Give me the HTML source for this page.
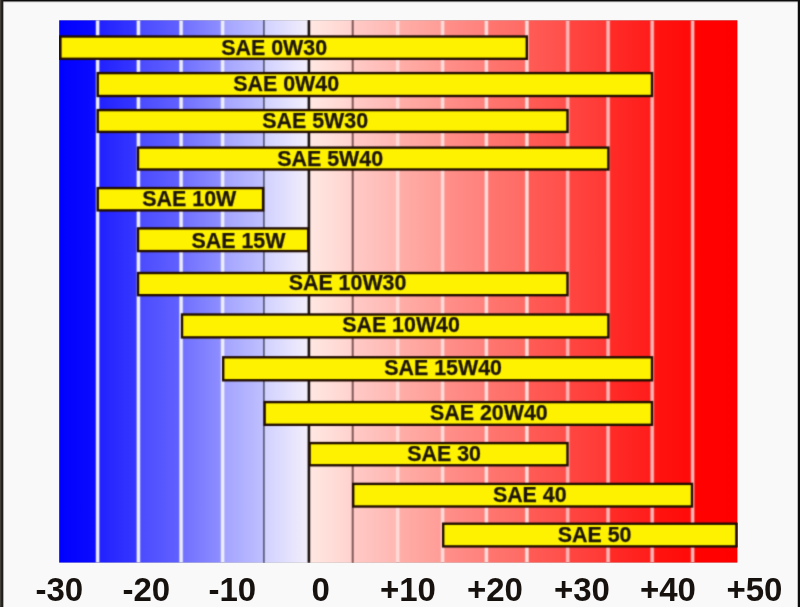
<!DOCTYPE html>
<html><head><meta charset="utf-8"><title>SAE</title>
<style>
html,body{margin:0;padding:0;}
body{width:800px;height:607px;overflow:hidden;background:#faf9f9;position:relative;font-family:"Liberation Sans",Arial,sans-serif;font-weight:bold;color:#1c1408;}
svg{position:absolute;left:0;top:0;}
.wrap{position:absolute;left:0;top:0;width:800px;height:607px;filter:url(#soft);}
.t{position:absolute;-webkit-text-stroke:0.25px #1c1408;font-size:21.4px;line-height:24px;white-space:nowrap;}
.ax{position:absolute;font-size:33px;line-height:36px;white-space:nowrap;top:572px;color:#17120e;}
</style></head><body>
<div class="wrap">
<svg width="800" height="607" viewBox="0 0 800 607">
<defs><filter id="soft" x="0" y="0" width="100%" height="100%" filterUnits="objectBoundingBox" color-interpolation-filters="sRGB"><feConvolveMatrix order="3" kernelMatrix="0.062 0.249 0.062 0.249 1 0.249 0.062 0.249 0.062" divisor="2.244" edgeMode="duplicate" preserveAlpha="true"/></filter>
<linearGradient id="g0" x1="0" x2="1" y1="0" y2="0"><stop offset="0" stop-color="#0000ff"/><stop offset="1" stop-color="#0c0cff"/></linearGradient>
<linearGradient id="g1" x1="0" x2="1" y1="0" y2="0"><stop offset="0" stop-color="#2020ff"/><stop offset="1" stop-color="#3838ff"/></linearGradient>
<linearGradient id="g2" x1="0" x2="1" y1="0" y2="0"><stop offset="0" stop-color="#4a4aff"/><stop offset="1" stop-color="#6262ff"/></linearGradient>
<linearGradient id="g3" x1="0" x2="1" y1="0" y2="0"><stop offset="0" stop-color="#6e6eff"/><stop offset="1" stop-color="#9090ff"/></linearGradient>
<linearGradient id="g4" x1="0" x2="1" y1="0" y2="0"><stop offset="0" stop-color="#a2a2ff"/><stop offset="1" stop-color="#c0c0ff"/></linearGradient>
<linearGradient id="g5" x1="0" x2="1" y1="0" y2="0"><stop offset="0" stop-color="#d0d0ff"/><stop offset="1" stop-color="#f4effb"/></linearGradient>
<linearGradient id="g6" x1="0" x2="1" y1="0" y2="0"><stop offset="0" stop-color="#ffe8e2"/><stop offset="1" stop-color="#ffd2ce"/></linearGradient>
<linearGradient id="g7" x1="0" x2="1" y1="0" y2="0"><stop offset="0" stop-color="#ffcac6"/><stop offset="1" stop-color="#ffb6b2"/></linearGradient>
<linearGradient id="g8" x1="0" x2="1" y1="0" y2="0"><stop offset="0" stop-color="#ffaea8"/><stop offset="1" stop-color="#ff9c96"/></linearGradient>
<linearGradient id="g9" x1="0" x2="1" y1="0" y2="0"><stop offset="0" stop-color="#ff908a"/><stop offset="1" stop-color="#ff807c"/></linearGradient>
<linearGradient id="g10" x1="0" x2="1" y1="0" y2="0"><stop offset="0" stop-color="#ff7670"/><stop offset="1" stop-color="#ff6a64"/></linearGradient>
<linearGradient id="g11" x1="0" x2="1" y1="0" y2="0"><stop offset="0" stop-color="#ff5c56"/><stop offset="1" stop-color="#ff4e4a"/></linearGradient>
<linearGradient id="g12" x1="0" x2="1" y1="0" y2="0"><stop offset="0" stop-color="#ff4642"/><stop offset="1" stop-color="#ff3834"/></linearGradient>
<linearGradient id="g13" x1="0" x2="1" y1="0" y2="0"><stop offset="0" stop-color="#ff2c28"/><stop offset="1" stop-color="#ff1c1a"/></linearGradient>
<linearGradient id="g14" x1="0" x2="1" y1="0" y2="0"><stop offset="0" stop-color="#ff1410"/><stop offset="1" stop-color="#ff0a08"/></linearGradient>
<linearGradient id="g15" x1="0" x2="1" y1="0" y2="0"><stop offset="0" stop-color="#ff0200"/><stop offset="1" stop-color="#ff0000"/></linearGradient>
</defs>
<rect x="59.2" y="20.3" width="38.90" height="542.30" fill="url(#g0)"/>
<rect x="97.6" y="20.3" width="41.30" height="542.30" fill="url(#g1)"/>
<rect x="138.4" y="20.3" width="43.20" height="542.30" fill="url(#g2)"/>
<rect x="181.1" y="20.3" width="42.00" height="542.30" fill="url(#g3)"/>
<rect x="222.6" y="20.3" width="41.80" height="542.30" fill="url(#g4)"/>
<rect x="263.9" y="20.3" width="45.50" height="542.30" fill="url(#g5)"/>
<rect x="308.9" y="20.3" width="44.30" height="542.30" fill="url(#g6)"/>
<rect x="352.7" y="20.3" width="45.50" height="542.30" fill="url(#g7)"/>
<rect x="397.7" y="20.3" width="45.40" height="542.30" fill="url(#g8)"/>
<rect x="442.6" y="20.3" width="44.30" height="542.30" fill="url(#g9)"/>
<rect x="486.4" y="20.3" width="41.00" height="542.30" fill="url(#g10)"/>
<rect x="526.9" y="20.3" width="41.30" height="542.30" fill="url(#g11)"/>
<rect x="567.7" y="20.3" width="40.90" height="542.30" fill="url(#g12)"/>
<rect x="608.1" y="20.3" width="44.60" height="542.30" fill="url(#g13)"/>
<rect x="652.2" y="20.3" width="40.90" height="542.30" fill="url(#g14)"/>
<rect x="692.6" y="20.3" width="44.80" height="542.30" fill="url(#g15)"/>
<rect x="95.50" y="20.3" width="4.20" height="542.30" fill="#ececff" opacity="0.45"/>
<rect x="96.10" y="20.3" width="3.0" height="542.30" fill="#ececff"/>
<rect x="136.30" y="20.3" width="4.20" height="542.30" fill="#ececff" opacity="0.45"/>
<rect x="136.90" y="20.3" width="3.0" height="542.30" fill="#ececff"/>
<rect x="179.00" y="20.3" width="4.20" height="542.30" fill="#ececff" opacity="0.45"/>
<rect x="179.60" y="20.3" width="3.0" height="542.30" fill="#ececff"/>
<rect x="220.50" y="20.3" width="4.20" height="542.30" fill="#ececff" opacity="0.45"/>
<rect x="221.10" y="20.3" width="3.0" height="542.30" fill="#ececff"/>
<rect x="263.10" y="20.3" width="1.6" height="542.30" fill="#54546e"/>
<rect x="307.60" y="20.3" width="2.6" height="542.30" fill="#181010"/>
<rect x="351.70" y="20.3" width="2.0" height="542.30" fill="#845858"/>
<rect x="395.60" y="20.3" width="4.20" height="542.30" fill="#ffdad8" opacity="0.45"/>
<rect x="396.20" y="20.3" width="3.0" height="542.30" fill="#ffdad8"/>
<rect x="440.50" y="20.3" width="4.20" height="542.30" fill="#ffdad8" opacity="0.45"/>
<rect x="441.10" y="20.3" width="3.0" height="542.30" fill="#ffdad8"/>
<rect x="484.30" y="20.3" width="4.20" height="542.30" fill="#ffdad8" opacity="0.45"/>
<rect x="484.90" y="20.3" width="3.0" height="542.30" fill="#ffdad8"/>
<rect x="524.80" y="20.3" width="4.20" height="542.30" fill="#ffdad8" opacity="0.45"/>
<rect x="525.40" y="20.3" width="3.0" height="542.30" fill="#ffdad8"/>
<rect x="565.60" y="20.3" width="4.20" height="542.30" fill="#ffb4b4" opacity="0.45"/>
<rect x="566.20" y="20.3" width="3.0" height="542.30" fill="#ffb4b4"/>
<rect x="606.00" y="20.3" width="4.20" height="542.30" fill="#ffb4b4" opacity="0.45"/>
<rect x="606.60" y="20.3" width="3.0" height="542.30" fill="#ffb4b4"/>
<rect x="650.10" y="20.3" width="4.20" height="542.30" fill="#ffb4b4" opacity="0.45"/>
<rect x="650.70" y="20.3" width="3.0" height="542.30" fill="#ffb4b4"/>
<rect x="690.50" y="20.3" width="4.20" height="542.30" fill="#ffb4b4" opacity="0.45"/>
<rect x="691.10" y="20.3" width="3.0" height="542.30" fill="#ffb4b4"/>
<rect x="60.40" y="36.50" width="466.40" height="22.30" fill="#fff200" stroke="#200c00" stroke-width="2.4"/>
<rect x="97.70" y="73.10" width="554.30" height="22.90" fill="#fff200" stroke="#200c00" stroke-width="2.4"/>
<rect x="97.70" y="110.10" width="469.80" height="21.80" fill="#fff200" stroke="#200c00" stroke-width="2.4"/>
<rect x="138.00" y="147.60" width="470.40" height="21.90" fill="#fff200" stroke="#200c00" stroke-width="2.4"/>
<rect x="97.70" y="188.10" width="165.40" height="22.30" fill="#fff200" stroke="#200c00" stroke-width="2.4"/>
<rect x="138.00" y="228.40" width="170.20" height="22.70" fill="#fff200" stroke="#200c00" stroke-width="2.4"/>
<rect x="138.00" y="273.00" width="429.50" height="22.20" fill="#fff200" stroke="#200c00" stroke-width="2.4"/>
<rect x="182.00" y="314.50" width="426.40" height="22.90" fill="#fff200" stroke="#200c00" stroke-width="2.4"/>
<rect x="223.20" y="357.30" width="428.80" height="23.00" fill="#fff200" stroke="#200c00" stroke-width="2.4"/>
<rect x="264.60" y="402.10" width="387.40" height="22.70" fill="#fff200" stroke="#200c00" stroke-width="2.4"/>
<rect x="309.60" y="443.10" width="257.90" height="22.20" fill="#fff200" stroke="#200c00" stroke-width="2.4"/>
<rect x="353.20" y="483.90" width="338.80" height="22.60" fill="#fff200" stroke="#200c00" stroke-width="2.4"/>
<rect x="443.20" y="523.70" width="293.20" height="22.70" fill="#fff200" stroke="#200c00" stroke-width="2.4"/>
<rect x="0" y="0" width="800" height="1.4" fill="#0c0c0c"/><rect x="0" y="1.4" width="800" height="0.8" fill="#0c0c0c" opacity="0.35"/>
<rect x="0" y="0" width="1" height="607" fill="#4a4740"/><rect x="1" y="0" width="2" height="607" fill="#201e1a"/><rect x="3" y="0" width="0.7" height="607" fill="#262420" opacity="0.5"/>
<rect x="798" y="0" width="2" height="607" fill="#0c0c0c"/><rect x="797.4" y="0" width="0.6" height="607" fill="#0c0c0c" opacity="0.4"/>
</svg>
<div class="t" style="left:221.30px;top:36px">SAE 0W30</div>
<div class="t" style="left:233.30px;top:72px">SAE 0W40</div>
<div class="t" style="left:262.30px;top:109px">SAE 5W30</div>
<div class="t" style="left:277.30px;top:147px">SAE 5W40</div>
<div class="t" style="left:142.35px;top:187px">SAE 10W</div>
<div class="t" style="left:191.50px;top:229px">SAE 15W</div>
<div class="t" style="left:288.70px;top:271px">SAE 10W30</div>
<div class="t" style="left:342.20px;top:313px">SAE 10W40</div>
<div class="t" style="left:384.30px;top:356px">SAE 15W40</div>
<div class="t" style="left:430.00px;top:401px">SAE 20W40</div>
<div class="t" style="left:407.30px;top:442px">SAE 30</div>
<div class="t" style="left:492.90px;top:483px">SAE 40</div>
<div class="t" style="left:557.75px;top:523px">SAE 50</div>
<div class="ax" style="left:35.4px">-30</div>
<div class="ax" style="left:122.4px">-20</div>
<div class="ax" style="left:208.5px">-10</div>
<div class="ax" style="left:311.5px">0</div>
<div class="ax" style="left:380.0px">+10</div>
<div class="ax" style="left:467.0px">+20</div>
<div class="ax" style="left:554.0px">+30</div>
<div class="ax" style="left:640.0px">+40</div>
<div class="ax" style="left:726.5px">+50</div>
</div>
</body></html>
